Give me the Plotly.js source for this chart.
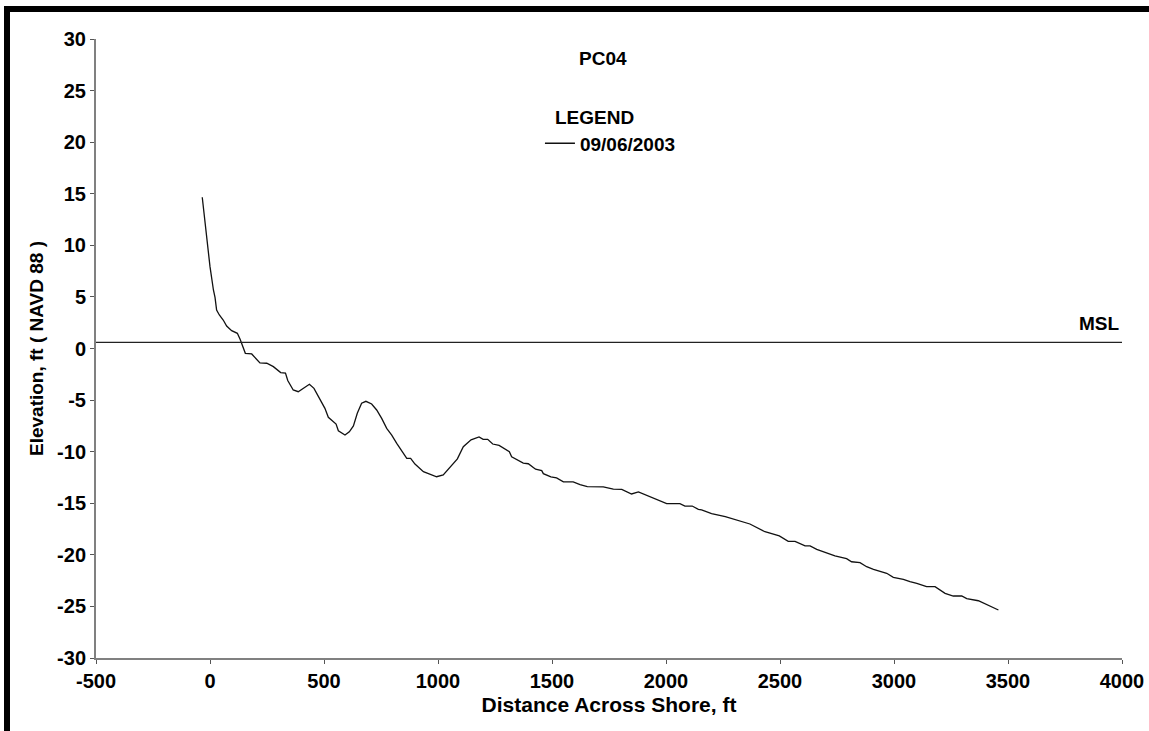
<!DOCTYPE html>
<html>
<head>
<meta charset="utf-8">
<script src="https://cdn.plot.ly/plotly-3.0.1.min.js"></script>
<style>
  html, body { margin: 0; padding: 0; background: #fff; overflow: hidden; }
  #frame { position: absolute; left: 4px; top: 6px; border-top: 6px solid #000; border-left: 6px solid #000; }
  #chart { width: 1139px; height: 719px; }
</style>
</head>
<body>
<div id="frame"><div id="chart"></div></div>
<script>
// Profile PC04, survey 09/06/2003
const distance = [
  -34, -15, 0, 15, 22, 29, 41, 58, 73, 95,
  120, 132, 155, 183, 219, 249, 278, 310, 331, 341,
  365, 387, 409, 436, 456, 480, 490, 504, 519, 541,
  553, 563, 592, 611, 629, 646, 665, 684, 709, 731,
  753, 775, 797, 819, 848, 863, 880, 899, 936, 965,
  994, 1023, 1053, 1085, 1111, 1145, 1180, 1198, 1218, 1240,
  1268, 1298, 1313, 1323, 1352, 1374, 1396, 1428, 1455, 1462,
  1495, 1520, 1550, 1593, 1623, 1655, 1725, 1769, 1806, 1849,
  1879, 1925, 1960, 2003, 2061, 2083, 2115, 2142, 2156, 2200,
  2260, 2310, 2368, 2434, 2497, 2536, 2566, 2610, 2632, 2661,
  2705, 2741, 2792, 2814, 2851, 2880, 2910, 2968, 2997, 3041,
  3070, 3100, 3143, 3180, 3224, 3260, 3297, 3319, 3370, 3414,
  3458
];
const elevation = [
  14.66, 10.52, 7.93, 5.67, 4.96, 3.73, 3.25, 2.76, 2.18, 1.73,
  1.47, 0.89, -0.47, -0.53, -1.40, -1.43, -1.76, -2.33, -2.38, -3.10,
  -4.02, -4.19, -3.86, -3.47, -3.86, -4.83, -5.16, -5.80, -6.67, -7.10,
  -7.32, -7.97, -8.39, -8.07, -7.51, -6.28, -5.31, -5.12, -5.38, -5.96,
  -6.77, -7.74, -8.39, -9.19, -10.16, -10.65, -10.65, -11.20, -11.94, -12.20,
  -12.43, -12.26, -11.50, -10.70, -9.52, -8.85, -8.57, -8.80, -8.80, -9.26,
  -9.40, -9.75, -10.00, -10.49, -10.81, -11.10, -11.17, -11.70, -11.84, -12.13,
  -12.45, -12.55, -12.92, -12.93, -13.20, -13.38, -13.42, -13.64, -13.65, -14.10,
  -13.90, -14.35, -14.62, -15.04, -15.04, -15.27, -15.27, -15.59, -15.65, -16.00,
  -16.30, -16.60, -17.01, -17.76, -18.17, -18.69, -18.69, -19.14, -19.14, -19.47,
  -19.85, -20.11, -20.37, -20.67, -20.76, -21.15, -21.40, -21.79, -22.18, -22.37,
  -22.60, -22.76, -23.09, -23.09, -23.73, -23.99, -23.99, -24.25, -24.45, -24.90,
  -25.35
];
const seriesName = '09/06/2003';
const mslDistance = [-500, 4000];
const mslElevation = [0.6, 0.6];
const xTickVals = [-500, 0, 500, 1000, 1500, 2000, 2500, 3000, 3500, 4000];
const xTickText = ['-500', '0', '500', '1000', '1500', '2000', '2500', '3000', '3500', '4000'];
const yTickVals = [-30, -25, -20, -15, -10, -5, 0, 5, 10, 15, 20, 25, 30];
const yTickText = ['-30', '-25', '-20', '-15', '-10', '-5', '0', '5', '10', '15', '20', '25', '30'];

const FONT = 'Liberation Sans, Arial, Helvetica, sans-serif';
const bold = (size) => ({ family: FONT, size: size, color: '#000', weight: 'bold' });

const traces = [
  {
    x: distance, y: elevation, name: seriesName, type: 'scatter', mode: 'lines',
    line: { color: '#111', width: 1.3 }, showlegend: true
  },
  {
    x: mslDistance, y: mslElevation, name: 'MSL', type: 'scatter', mode: 'lines',
    line: { color: '#222', width: 1.3 }, showlegend: false, hoverinfo: 'skip'
  }
];

const layout = {
  width: 1139, height: 719,
  margin: { l: 86, r: 27, t: 27, b: 73, pad: 0 },
  paper_bgcolor: '#fff', plot_bgcolor: '#fff',
  font: bold(19),
  title: { text: 'PC04', font: bold(19), xref: 'paper', x: 0.494, xanchor: 'center', yref: 'container', y: 0.936, yanchor: 'middle' },
  showlegend: true,
  legend: {
    x: 0.4327, xanchor: 'left', y: 0.862, yanchor: 'top',
    bgcolor: 'rgba(0,0,0,0)', borderwidth: 0,
    font: bold(19)
  },
  xaxis: {
    range: [-500, 4000], tickmode: 'array', tickvals: xTickVals, ticktext: xTickText,
    showgrid: false, zeroline: false, showline: true, linecolor: '#808080', linewidth: 2,
    ticks: 'outside', ticklen: 4, tickcolor: '#555', tickwidth: 1,
    tickfont: bold(20),
    title: { text: 'Distance Across Shore, ft', font: bold(21), standoff: 6 }
  },
  yaxis: {
    range: [-30, 30], tickmode: 'array', tickvals: yTickVals, ticktext: yTickText,
    showgrid: false, zeroline: false, showline: true, linecolor: '#808080', linewidth: 2,
    ticks: 'outside', ticklen: 4, tickcolor: '#555', tickwidth: 1,
    tickfont: bold(20),
    title: { text: 'Elevation, ft ( NAVD 88 )', font: bold(19), standoff: 8 }
  },
  annotations: [
    { x: 4000, y: mslElevation[1], xref: 'x', yref: 'y', text: 'MSL', showarrow: false,
      xanchor: 'right', yanchor: 'bottom', yshift: 6, font: bold(19) },
    { x: 0.486, y: 1 - (117.5 - 39) / 619, xref: 'paper', yref: 'paper', text: 'LEGEND', showarrow: false,
      xanchor: 'center', yanchor: 'middle', font: bold(19) }
  ]
};

Plotly.newPlot('chart', traces, layout, { staticPlot: true, displayModeBar: false });
</script>
</body>
</html>
